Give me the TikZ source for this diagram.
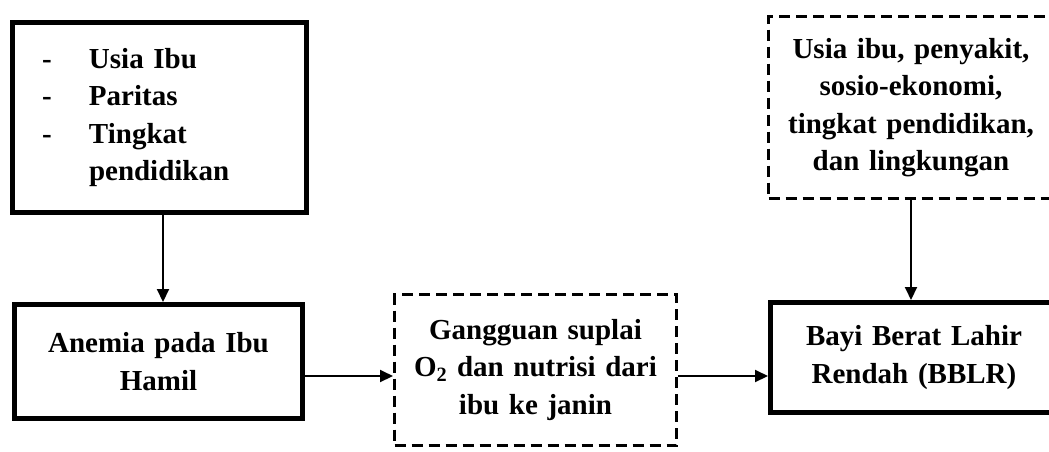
\documentclass[tikz,border=0pt]{standalone}
\usepackage{fontspec}
\setmainfont{Liberation Serif}[WordSpace=0.85]
\usetikzlibrary{arrows.meta}

\tikzset{
  boxtext/.style={font=\fontsize{29}{37.5}\selectfont\bfseries, inner sep=0pt, align=center},
  solidbox/.style={boxtext, draw, line width=5pt, rectangle},
  dashbox/.style={boxtext, draw, line width=3pt, dash pattern=on 11pt off 6pt, rectangle},
  arr/.style={line width=2pt, -{Triangle[length=13pt,width=12pt]}}
}

\begin{document}
\begin{tikzpicture}[x=1pt,y=-1pt]
  \useasboundingbox (0,0) rectangle (1049,451);
  \begin{scope}
    \clip (0,0) rectangle (1049,451);

    % risk factors (list)
    \node[solidbox, minimum width=291pt, minimum height=190pt,
          text width=234pt, inner xsep=30pt, align=left] (tl) at (159,117.5)
      {\makebox[47pt][l]{-}Usia Ibu\\
       \makebox[47pt][l]{-}Paritas\\
       \makebox[47pt][l]{-}Tingkat\\
       \hspace*{47pt}pendidikan};

    % anaemia in pregnancy
    \node[solidbox, minimum width=288pt, minimum height=114pt, text width=280pt] (bl) at (158.5,361.5)
      {Anemia pada Ibu\\Hamil};

    % disturbed supply to the foetus
    \node[dashbox, minimum width=282pt, minimum height=151pt, text width=276pt] (mid) at (535.5,370)
      {Gangguan suplai\\O\textsubscript{2} dan nutrisi dari\\ibu ke janin};

    % outcome
    \node[solidbox, minimum width=287pt, minimum height=110pt, text width=280pt] (rb) at (914,357.5)
      {Bayi Berat Lahir\\Rendah (BBLR)};

    % other factors
    \node[dashbox, minimum width=285pt, minimum height=182pt, text width=280pt] (tr) at (911,107.5)
      {Usia ibu, penyakit,\\sosio-ekonomi,\\tingkat pendidikan,\\dan lingkungan};

    % connectors
    \coordinate (lvl) at (0,376);
    \draw[arr] ([xshift=4pt]tl.south) -- ([xshift=4pt]tl.south |- bl.north);
    \draw[arr] (bl.east |- lvl) -- (mid.west |- lvl);
    \draw[arr] (mid.east |- lvl) -- (rb.west |- lvl);
    \draw[arr] (tr.south) -- (tr.south |- rb.north);
  \end{scope}
\end{tikzpicture}
\end{document}
